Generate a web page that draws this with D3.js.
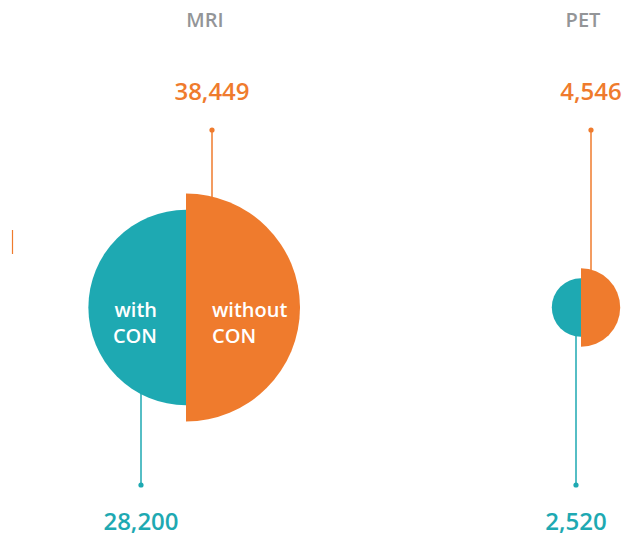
<!DOCTYPE html>
<html lang="en">
<head>
  <meta charset="UTF-8">
  <script src="https://d3js.org/d3.v7.min.js"></script>
  <title>MRI and PET, with and without CON</title>
  <style>
    body {
      margin: 0;
      background: #fff;
    }
    svg text {
      font-family: "Open Sans", sans-serif;
    }
    .title {
      fill: #939598;
      font-size: 20px;
      font-weight: 600;
    }
    .value {
      font-size: 24px;
      font-weight: 600;
    }
    .inside {
      fill: #fff;
      font-size: 20px;
      font-weight: 600;
    }
  </style>
</head>
<body>
<div id="chart"></div>
<script>
  // chart data
  const categories = ["MRI", "PET"];
  const withCon = [28200, 2520];
  const withoutCon = [38449, 4546];
  const halfLabels = [["with", "CON"], ["without", "CON"]];

  const width = 623;
  const height = 538;
  const teal = "#1ea9b2";
  const orange = "#ef7b2d";

  const svg = d3.select("#chart")
          .append("svg")
          .attr("width", width)
          .attr("height", height);

  // where each pair of half circles sits
  const x = d3.scalePoint()
          .domain(categories)
          .range([186, 581]);
  const cy = 307.5;

  // area proportional to value
  const r = d3.scaleSqrt()
          .domain([0, d3.max(withoutCon)])
          .range([0, 114]);

  const rows = categories.map((c, i) => ({
    cat: c,
    with: withCon[i],
    without: withoutCon[i]
  }));

  // leader line offsets from the split line (px)
  const leadOrange = [26, 10];
  const leadTeal = [-45, -5];
  const titleShift = [19, 2];

  const fmt = d3.format(",");

  // small orange fragment at the left edge
  svg.append("line")
          .attr("x1", 12.5).attr("x2", 12.5)
          .attr("y1", 230).attr("y2", 254)
          .attr("stroke", orange)
          .attr("stroke-width", 1.2);

  const g = svg.selectAll("g.pair")
          .data(rows)
          .enter()
          .append("g")
          .attr("class", "pair");

  // leader lines (behind the shapes)
  g.append("line")
          .attr("x1", (d, i) => x(d.cat) + leadOrange[i])
          .attr("x2", (d, i) => x(d.cat) + leadOrange[i])
          .attr("y1", 130)
          .attr("y2", cy)
          .attr("stroke", orange)
          .attr("stroke-width", 1.5);
  g.append("circle")
          .attr("cx", (d, i) => x(d.cat) + leadOrange[i])
          .attr("cy", 130)
          .attr("r", 2.6)
          .attr("fill", orange);

  g.append("line")
          .attr("x1", (d, i) => x(d.cat) + leadTeal[i])
          .attr("x2", (d, i) => x(d.cat) + leadTeal[i])
          .attr("y1", cy)
          .attr("y2", 485)
          .attr("stroke", teal)
          .attr("stroke-width", 1.5);
  g.append("circle")
          .attr("cx", (d, i) => x(d.cat) + leadTeal[i])
          .attr("cy", 485)
          .attr("r", 2.6)
          .attr("fill", teal);

  // half circles
  const arc = d3.arc().innerRadius(0);

  g.append("path")
          .attr("transform", d => `translate(${x(d.cat)},${cy})`)
          .attr("d", d => arc({outerRadius: r(d.with), startAngle: Math.PI, endAngle: 2 * Math.PI}))
          .attr("fill", teal);

  g.append("path")
          .attr("transform", d => `translate(${x(d.cat)},${cy})`)
          .attr("d", d => arc({outerRadius: r(d.without), startAngle: 0, endAngle: Math.PI}))
          .attr("fill", orange);

  // titles
  g.append("text")
          .attr("class", "title")
          .attr("x", (d, i) => x(d.cat) + titleShift[i])
          .attr("y", 27)
          .attr("text-anchor", "middle")
          .text(d => d.cat);

  // value labels
  g.append("text")
          .attr("class", "value")
          .attr("x", (d, i) => x(d.cat) + leadOrange[i])
          .attr("y", 100)
          .attr("text-anchor", "middle")
          .attr("fill", orange)
          .text(d => fmt(d.without));

  g.append("text")
          .attr("class", "value")
          .attr("x", (d, i) => x(d.cat) + leadTeal[i])
          .attr("y", 530)
          .attr("text-anchor", "middle")
          .attr("fill", teal)
          .text(d => fmt(d.with));

  // labels inside the big pair only
  const big = rows[0];
  const inside = svg.append("g");
  halfLabels[0].forEach((t, k) => {
    inside.append("text")
            .attr("class", "inside")
            .attr("x", x(big.cat) - 29)
            .attr("y", 317 + k * 26)
            .attr("text-anchor", "end")
            .text(t);
  });
  halfLabels[1].forEach((t, k) => {
    inside.append("text")
            .attr("class", "inside")
            .attr("x", x(big.cat) + 26)
            .attr("y", 317 + k * 26)
            .attr("text-anchor", "start")
            .text(t);
  });
</script>
</body>
</html>
